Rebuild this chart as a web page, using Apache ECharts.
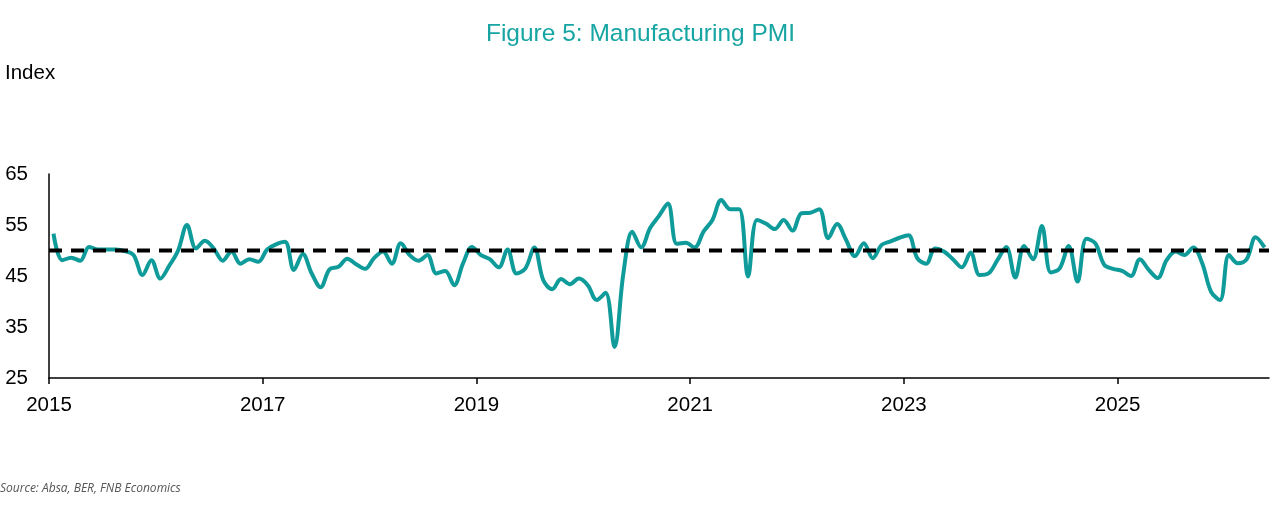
<!DOCTYPE html>
<html>
<head>
<meta charset="utf-8">
<script src="https://cdn.jsdelivr.net/npm/echarts@6/dist/echarts.min.js"></script>
<style>
  html, body { margin: 0; padding: 0; background: #fff; }
  #chart { width: 1281px; height: 521px; }
</style>
</head>
<body>
<div id="chart"></div>
<script>
// monthly readings, Jan 2015 onwards
const startYear = 2015;
const pmi = [
  53.3, 48.1, 48.6, 48.0, 50.7, 50.2, 50.2, 50.2, 49.9, 49.1, 45.2, 48.1,
  44.5, 47.0, 50.0, 55.0, 50.4, 51.9, 50.4, 48.0, 49.8, 47.4, 48.3, 47.8,
  50.2, 51.2, 51.7, 46.2, 49.3, 45.5, 42.8, 46.3, 46.8, 48.4, 47.3, 46.4,
  48.5, 49.8, 47.4, 51.4, 49.1, 48.0, 49.1, 45.5, 46.0, 43.2, 47.5, 50.7,
  49.1, 48.3, 46.7, 50.2, 45.5, 46.5, 50.6, 44.2, 42.4, 44.4, 43.4, 44.5,
  43.2, 40.3, 41.7, 31.1, 45.5, 53.7, 50.6, 54.4, 56.8, 59.2, 51.3, 51.5,
  50.6, 53.7, 56.0, 59.9, 58.1, 58.1, 44.9, 56.0, 55.3, 54.2, 56.0, 53.9,
  57.3, 57.4, 58.1, 52.4, 55.2, 52.1, 48.9, 51.4, 48.5, 51.1, 51.8, 52.5,
  53.0, 48.5, 47.4, 50.4, 49.8, 48.3, 46.7, 49.6, 45.2, 45.5, 48.1, 50.7,
  44.7, 50.9, 48.3, 54.8, 45.7, 46.5, 50.9, 43.9, 52.3, 51.4, 47.2, 46.4,
  46.0, 45.0, 48.3, 46.2, 44.6, 48.1, 49.8, 49.1, 50.6, 47.5, 41.9, 40.3,
  49.1, 47.5, 48.3, 52.6, 50.6
];
const neutral = 50;
const yearTicks = [2015, 2017, 2019, 2021, 2023, 2025];
const yTicks = [25, 35, 45, 55, 65];

// each reading sits in the middle of its month
const pmiPoints = pmi.map((v, i) => [startYear + (i + 0.5) / 12, v]);
const xMax = startYear + pmi.length / 12;

const teal = '#0f9b9a';
const font = 'Liberation Sans, Arial, sans-serif';
const chart = echarts.init(document.getElementById('chart'), null, { renderer: 'canvas' });

chart.setOption({
  animation: false,
  textStyle: { fontFamily: font },
  title: {
    text: 'Figure 5: Manufacturing PMI',
    left: 'center',
    top: 17,
    textStyle: { color: '#17a5a3', fontSize: 24.5, fontWeight: 'normal', fontFamily: font }
  },
  graphic: [
    {
      type: 'text', left: 5, top: 63,
      style: { text: 'Index', fontSize: 20.5, fill: '#000', fontFamily: font }
    },
    {
      type: 'text', left: 0, top: 483,
      style: { text: 'Source: Absa, BER, FNB Economics', fontSize: 12, fontStyle: 'italic', fill: '#555', fontFamily: 'Open Sans, sans-serif' }
    }
  ],
  grid: { left: 49, right: 12, top: 174, bottom: 143 },
  xAxis: {
    type: 'value',
    min: startYear,
    max: xMax,
    splitLine: { show: false },
    axisLine: { lineStyle: { color: '#000', width: 1.5 } },
    axisTick: { show: true, length: 6, customValues: yearTicks, lineStyle: { color: '#000', width: 1.5 } },
    axisLabel: { customValues: yearTicks, color: '#000', fontSize: 20.5, margin: 17, formatter: v => String(Math.round(v)) }
  },
  yAxis: {
    type: 'value',
    min: 25,
    max: 65,
    interval: 10,
    splitLine: { show: false },
    axisLine: { show: true, lineStyle: { color: '#000', width: 1.5 } },
    axisTick: { show: false },
    axisLabel: { customValues: yTicks, color: '#000', fontSize: 20.5, margin: 21 }
  },
  series: [
    {
      type: 'line',
      data: [[startYear, neutral], [xMax, neutral]],
      symbol: 'none',
      lineStyle: { color: '#000', width: 4, type: [13, 9] },
      z: 3
    },
    {
      type: 'line',
      data: pmiPoints,
      symbol: 'none',
      smooth: 0.35,
      lineStyle: { color: teal, width: 4 },
      z: 2
    }
  ]
});
</script>
</body>
</html>
